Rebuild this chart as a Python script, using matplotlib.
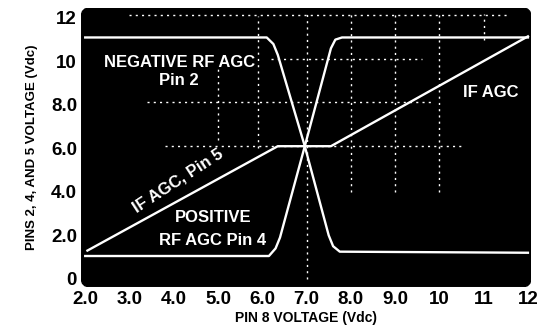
import matplotlib
matplotlib.use("agg")

from matplotlib import pyplot as plt
from matplotlib.patches import FancyBboxPatch

# curves
neg_x = [2.0, 6.1, 6.25, 6.35, 6.96, 7.5, 7.6, 7.75, 12.0]
neg_y = [11.1, 11.1, 10.8, 10.3, 6.1, 2.0, 1.5, 1.25, 1.2]

pos_x = [2.0, 6.15, 6.3, 6.4, 6.96, 7.55, 7.65, 7.8, 12.0]
pos_y = [1.05, 1.05, 1.4, 1.9, 6.1, 10.6, 11.0, 11.1, 11.1]

ifagc_x = [2.05, 6.35, 7.55, 12.0]
ifagc_y = [1.3, 6.1, 6.1, 11.15]

x_ticks = [2, 3, 4, 5, 6, 7, 8, 9, 10, 11, 12]
x_labels = ["2.0", "3.0", "4.0", "5.0", "6.0", "7.0", "8.0", "9.0", "10", "11", "12"]
y_ticks = [0, 2, 4, 6, 8, 10, 12]
y_labels = ["0", "2.0", "4.0", "6.0", "8.0", "10", "12"]

# partial scope graticule: (x0, x1, y0, y1)
h_grid = [(3.0, 11.6, 12.15, 12.15), (6.2, 9.6, 10.1, 10.1),
          (3.4, 9.8, 8.15, 8.15), (3.8, 10.5, 6.1, 6.1)]
v_grid = [(5.0, 5.0, 6.4, 9.7), (5.9, 5.9, 6.0, 12.1), (7.0, 7.0, 0.0, 12.3),
          (8.0, 8.0, 4.0, 12.2), (9.0, 9.0, 4.0, 12.2), (10.0, 10.0, 4.0, 12.2),
          (11.0, 11.0, 11.0, 12.2)]

plt.rcParams["font.family"] = ["Liberation Sans", "DejaVu Sans"]

fig = plt.figure(figsize=(5.38, 3.29), dpi=100)
ax = fig.add_axes([0.151, 0.128, 0.836, 0.848])
ax.set_xlim(1.91, 12.07)
ax.set_ylim(-0.37, 12.46)

ax.patch.set_visible(False)
for s in ax.spines.values():
    s.set_visible(False)
bg = FancyBboxPatch((0, 0), 1, 1, boxstyle="round,pad=0,rounding_size=0.02",
                    transform=ax.transAxes, facecolor="black", edgecolor="black",
                    zorder=0, mutation_aspect=1.6)
ax.add_patch(bg)

for x0, x1, y0, y1 in h_grid + v_grid:
    ax.plot([x0, x1], [y0, y1], color="white", lw=1.0, ls=(0, (1.5, 3)), zorder=1)

ax.plot(neg_x, neg_y, color="white", lw=1.7, zorder=3)
ax.plot(pos_x, pos_y, color="white", lw=1.7, zorder=3)
ax.plot(ifagc_x, ifagc_y, color="white", lw=1.7, zorder=3)

txt = dict(color="white", fontsize=12, fontweight="bold", ha="center", va="center")
ax.text(4.12, 9.95, "NEGATIVE RF AGC", **txt)
ax.text(4.12, 9.1, "Pin 2", **txt)
ax.text(11.15, 8.55, "IF AGC", **txt)
ax.text(4.1, 4.5, "IF AGC, Pin 5", rotation=33, **txt)
ax.text(4.9, 2.8, "POSITIVE", **txt)
ax.text(4.88, 1.75, "RF AGC Pin 4", **txt)

ax.set_xticks(x_ticks)
ax.set_xticklabels(x_labels)
ax.set_yticks(y_ticks)
ax.set_yticklabels(y_labels)
ax.tick_params(length=0, pad=3, labelsize=13.5)
for lab in ax.get_xticklabels() + ax.get_yticklabels():
    lab.set_fontweight("bold")

ax.set_xlabel("PIN 8 VOLTAGE (Vdc)", fontsize=10, fontweight="bold", labelpad=2)
ax.set_ylabel("PINS 2, 4, AND 5 VOLTAGE (Vdc)", fontsize=9.5, fontweight="bold", labelpad=9)

fig.savefig("out.png", dpi=100)
